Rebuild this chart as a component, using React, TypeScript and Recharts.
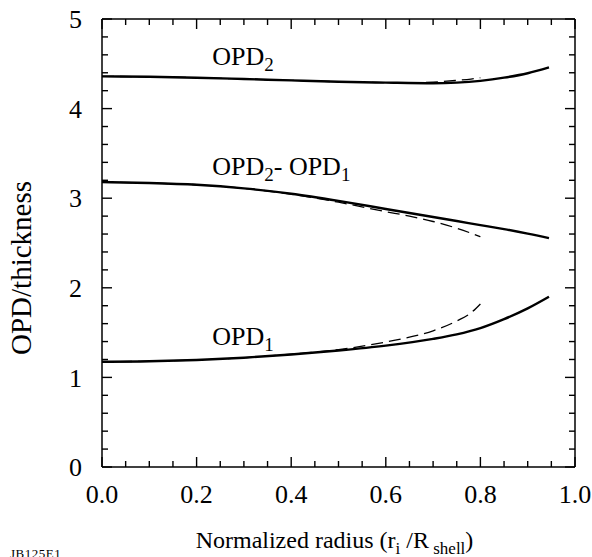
import React from "react";
import { Line, LineChart, ReferenceDot, XAxis, YAxis } from "recharts";

// normalized radius samples for the solid (full-range) curves
const radius = [0, 0.1, 0.2, 0.3, 0.4, 0.5, 0.6, 0.7, 0.75, 0.8, 0.85, 0.9, 0.945];
const opd2 = [4.36, 4.355, 4.345, 4.33, 4.315, 4.3, 4.29, 4.283, 4.29, 4.31, 4.345, 4.395, 4.46];
const opdDiff = [3.18, 3.17, 3.15, 3.11, 3.05, 2.97, 2.88, 2.79, 2.745, 2.7, 2.655, 2.605, 2.555];
const opd1 = [1.175, 1.18, 1.195, 1.22, 1.255, 1.3, 1.355, 1.43, 1.48, 1.55, 1.65, 1.77, 1.9];

// dashed curves stop short at r ~ 0.8
const radiusDashed = [0, 0.1, 0.2, 0.3, 0.4, 0.5, 0.6, 0.65, 0.7, 0.75, 0.78, 0.8];
const opd2Dashed = [4.36, 4.355, 4.345, 4.33, 4.315, 4.3, 4.29, 4.288, 4.295, 4.315, 4.33, 4.345];
const opdDiffDashed = [3.18, 3.17, 3.15, 3.11, 3.045, 2.955, 2.85, 2.8, 2.74, 2.665, 2.61, 2.57];
const opd1Dashed = [1.175, 1.18, 1.195, 1.22, 1.26, 1.31, 1.395, 1.45, 1.52, 1.63, 1.72, 1.82];

const xTicks = [
  0, 0.05, 0.1, 0.15, 0.2, 0.25, 0.3, 0.35, 0.4, 0.45, 0.5, 0.55, 0.6, 0.65, 0.7,
  0.75, 0.8, 0.85, 0.9, 0.95, 1,
];
const xMajor = [0, 0.2, 0.4, 0.6, 0.8, 1];
const xLabels = ["0.0", "0.2", "0.4", "0.6", "0.8", "1.0"];

const yTicks = [
  0, 0.2, 0.4, 0.6, 0.8, 1, 1.2, 1.4, 1.6, 1.8, 2, 2.2, 2.4, 2.6, 2.8, 3, 3.2, 3.4,
  3.6, 3.8, 4, 4.2, 4.4, 4.6, 4.8, 5,
];
const yMajor = [0, 1, 2, 3, 4, 5];
const yLabels = ["0", "1", "2", "3", "4", "5"];

const toPoints = (xs: number[], vs: number[]) => xs.map((r, i) => ({ r, v: vs[i] }));

const INK = "#000";
const MAJOR = 10;
const MINOR = 6;
const FONT = 26;

// inward tick marks drawn as short paths
const mark = (d: string) => <path d={d} stroke={INK} strokeWidth={1.4} fill="none" />;

const BottomTick = ({ x, y, payload }: any) => {
  const idx = xMajor.indexOf(payload.value);
  const len = idx >= 0 ? MAJOR : MINOR;
  return (
    <g>
      {mark(`M${x},${y}V${y - len}`)}
      {idx >= 0 && (
        <text x={x} y={y + 36} textAnchor="middle" fontSize={FONT} fill={INK}>
          {xLabels[idx]}
        </text>
      )}
    </g>
  );
};

const TopTick = ({ x, y, payload }: any) => {
  const len = xMajor.includes(payload.value) ? MAJOR : MINOR;
  return <g>{mark(`M${x},${y}V${y + len}`)}</g>;
};

const LeftTick = ({ x, y, payload }: any) => {
  const idx = yMajor.indexOf(payload.value);
  const len = idx >= 0 ? MAJOR : MINOR;
  return (
    <g>
      {mark(`M${x},${y}H${x + len}`)}
      {idx >= 0 && (
        <text x={x - 20} y={y} dy="0.35em" textAnchor="end" fontSize={FONT} fill={INK}>
          {yLabels[idx]}
        </text>
      )}
    </g>
  );
};

const RightTick = ({ x, y, payload }: any) => {
  const len = yMajor.includes(payload.value) ? MAJOR : MINOR;
  return <g>{mark(`M${x},${y}H${x - len}`)}</g>;
};

// curve name with a subscript, anchored at its left baseline
const CurveName = ({ viewBox, parts }: any) => {
  const x = viewBox.x + viewBox.width / 2;
  const y = viewBox.y + viewBox.height / 2;
  return (
    <text x={x} y={y} fontSize={FONT} fill={INK}>
      {parts.map((p: [string, string], i: number) => (
        <React.Fragment key={i}>
          <tspan dy={i === 0 ? 0 : -6}>{p[0]}</tspan>
          <tspan fontSize={19} dy={6}>
            {p[1]}
          </tspan>
        </React.Fragment>
      ))}
    </text>
  );
};

const XTitle = ({ viewBox }: any) => {
  const cx = viewBox.x + viewBox.width / 2 - 4;
  const y = viewBox.y + 81;
  return (
    <text x={cx} y={y} textAnchor="middle" fontSize={24} fill={INK}>
      <tspan>Normalized radius (r</tspan>
      <tspan fontSize={17} dy={6}>i</tspan>
      <tspan dy={-6}> /R</tspan>
      <tspan fontSize={17} dy={6}> shell</tspan>
      <tspan dy={-6}>)</tspan>
    </text>
  );
};

const YTitle = ({ viewBox }: any) => {
  const x = 31;
  const y = viewBox.y + viewBox.height / 2 + 25;
  return (
    <text x={x} y={y} transform={`rotate(-90 ${x} ${y})`} textAnchor="middle" fontSize={29} fill={INK}>
      OPD/thickness
    </text>
  );
};

export default function App() {
  const solidStyle = { stroke: INK, strokeWidth: 2.4, dot: false, type: "monotone" as const };
  const dashStyle = {
    stroke: INK,
    strokeWidth: 1.3,
    strokeDasharray: "12 6",
    dot: false,
    type: "monotone" as const,
  };
  return (
    <div
      style={{
        position: "absolute",
        left: 0,
        top: 0,
        width: 592,
        height: 557,
        background: "#fff",
        fontFamily: "'Liberation Serif', 'Times New Roman', serif",
      }}
    >
      <LineChart width={592} height={557} margin={{ top: 9, right: 7, bottom: 60, left: 42 }}>
        <XAxis
          xAxisId="b"
          dataKey="r"
          type="number"
          domain={[0, 1]}
          ticks={xTicks}
          interval={0}
          height={30}
          tickSize={0}
          tickMargin={0}
          tickLine={false}
          axisLine={{ stroke: INK, strokeWidth: 1.5 }}
          tick={(p: any) => <BottomTick {...p} />}
          label={{ content: (p: any) => <XTitle {...p} /> }}
        />
        <XAxis
          xAxisId="t"
          orientation="top"
          dataKey="r"
          type="number"
          domain={[0, 1]}
          allowDataOverflow
          ticks={xTicks}
          interval={0}
          height={10}
          tickSize={0}
          tickMargin={0}
          tickLine={false}
          axisLine={{ stroke: INK, strokeWidth: 1.5 }}
          tick={(p: any) => <TopTick {...p} />}
        />
        <YAxis
          yAxisId="l"
          type="number"
          domain={[0, 5]}
          ticks={yTicks}
          interval={0}
          width={60}
          tickSize={0}
          tickMargin={0}
          tickLine={false}
          axisLine={{ stroke: INK, strokeWidth: 1.5 }}
          tick={(p: any) => <LeftTick {...p} />}
          label={{ content: (p: any) => <YTitle {...p} /> }}
        />
        <YAxis
          yAxisId="r"
          orientation="right"
          type="number"
          domain={[0, 5]}
          allowDataOverflow
          ticks={yTicks}
          interval={0}
          width={10}
          tickSize={0}
          tickMargin={0}
          tickLine={false}
          axisLine={{ stroke: INK, strokeWidth: 1.5 }}
          tick={(p: any) => <RightTick {...p} />}
        />

        {/* invisible copy keeps the top and right frame axes attached to a series */}
        <Line xAxisId="t" yAxisId="r" data={toPoints(radius, opd1)} dataKey="v" stroke="none" dot={false} isAnimationActive={false} />

        <Line xAxisId="b" yAxisId="l" data={toPoints(radiusDashed, opd2Dashed)} dataKey="v" {...dashStyle} isAnimationActive={false} />
        <Line xAxisId="b" yAxisId="l" data={toPoints(radiusDashed, opdDiffDashed)} dataKey="v" {...dashStyle} isAnimationActive={false} />
        <Line xAxisId="b" yAxisId="l" data={toPoints(radiusDashed, opd1Dashed)} dataKey="v" {...dashStyle} isAnimationActive={false} />
        <Line xAxisId="b" yAxisId="l" data={toPoints(radius, opd2)} dataKey="v" {...solidStyle} isAnimationActive={false} />
        <Line xAxisId="b" yAxisId="l" data={toPoints(radius, opdDiff)} dataKey="v" {...solidStyle} isAnimationActive={false} />
        <Line xAxisId="b" yAxisId="l" data={toPoints(radius, opd1)} dataKey="v" {...solidStyle} isAnimationActive={false} />

        <ReferenceDot
          xAxisId="b"
          yAxisId="l"
          x={0.233}
          y={4.49}
          r={0}
          fill="none"
          stroke="none"
          label={{ content: (p: any) => <CurveName {...p} parts={[["OPD", "2"]]} /> }}
        />
        <ReferenceDot
          xAxisId="b"
          yAxisId="l"
          x={0.233}
          y={3.26}
          r={0}
          fill="none"
          stroke="none"
          label={{ content: (p: any) => <CurveName {...p} parts={[["OPD", "2"], ["- OPD", "1"]]} /> }}
        />
        <ReferenceDot
          xAxisId="b"
          yAxisId="l"
          x={0.233}
          y={1.36}
          r={0}
          fill="none"
          stroke="none"
          label={{ content: (p: any) => <CurveName {...p} parts={[["OPD", "1"]]} /> }}
        />
      </LineChart>
      <div style={{ position: "absolute", left: 10, top: 546, fontSize: 13, color: INK, letterSpacing: 0.5 }}>
        JB125E1
      </div>
    </div>
  );
}
